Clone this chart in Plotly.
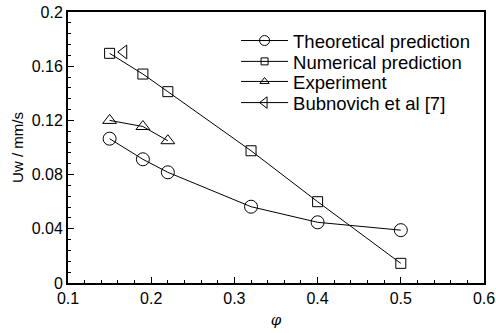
import plotly.graph_objects as go

x_theory = [0.15, 0.19, 0.22, 0.32, 0.40, 0.50]
y_theory = [0.1065, 0.0913, 0.0817, 0.0563, 0.0448, 0.0390]
x_num = [0.15, 0.19, 0.22, 0.32, 0.40, 0.50]
y_num = [0.1695, 0.1542, 0.1412, 0.0976, 0.0600, 0.0145]
x_exp = [0.15, 0.19, 0.22]
y_exp = [0.1200, 0.1155, 0.1050]
x_bub = [0.167]
y_bub = [0.1705]

names = ["Theoretical prediction", "Numerical prediction", "Experiment", "Bubnovich et al [7]"]
symbols = ["circle-open", "square-open", "triangle-up-open", "triangle-left-open"]
plot_sizes = [13, 10, 12, 12]
legend_sizes = [10, 7, 8, 10]
legend_ids = ["legend", "legend2", "legend3", "legend4"]
legend_rows = [0.893, 0.816, 0.742, 0.664]
xs = [x_theory, x_num, x_exp, x_bub]
ys = [y_theory, y_num, y_exp, y_bub]

line = dict(color="black", width=1)
fig = go.Figure()
for xv, yv, nm, sym, sz in zip(xs, ys, names, symbols, plot_sizes):
    fig.add_trace(go.Scatter(x=xv, y=yv, mode="lines+markers", name=nm, showlegend=False,
                             line=line, marker=dict(symbol=sym, size=sz, color="black", line=dict(width=1))))
for nm, sym, sz, lid in zip(names, symbols, legend_sizes, legend_ids):
    fig.add_trace(go.Scatter(x=[None], y=[None], mode="lines+markers", name=nm, showlegend=True,
                             legend=lid,
                             line=line, marker=dict(symbol=sym, size=sz, color="black", line=dict(width=1))))

font = dict(family="Liberation Sans, Arial, sans-serif", size=16, color="black")
legend_font = dict(family="Liberation Sans, Arial, sans-serif", size=18.5, color="black")
layout_legends = {}
for lid, ly in zip(legend_ids, legend_rows):
    layout_legends[lid] = dict(x=0.404, y=ly, xanchor="left", yanchor="middle",
                               bgcolor="rgba(0,0,0,0)", font=legend_font, itemwidth=47)

fig.update_layout(
    width=496, height=333,
    margin=dict(l=68, r=12, t=12, b=50),
    paper_bgcolor="white", plot_bgcolor="white",
    font=font,
    showlegend=True,
    **layout_legends,
    xaxis=dict(range=[0.1, 0.6], tickvals=[0.1, 0.2, 0.3, 0.4, 0.5, 0.6],
               ticktext=["0.1", "0.2", "0.3", "0.4", "0.5", "0.6"],
               ticks="inside", ticklen=6, tickwidth=1, tickcolor="black",
               minor=dict(dtick=0.02, ticks="inside", ticklen=3, tickcolor="black", tickwidth=1),
               showline=True, linecolor="black", linewidth=2, mirror=True,
               showgrid=False, zeroline=False, automargin=False,
               title=dict(text="<i>φ</i>", standoff=8, font=dict(family="DejaVu Serif, serif", size=15))),
    yaxis=dict(range=[0, 0.2], tickvals=[0, 0.04, 0.08, 0.12, 0.16, 0.2],
               ticktext=["0", "0.04", "0.08", "0.12", "0.16", "0.2"],
               ticks="inside", ticklen=6, tickwidth=1, tickcolor="black",
               minor=dict(dtick=0.008, ticks="inside", ticklen=3, tickcolor="black", tickwidth=1),
               showline=True, linecolor="black", linewidth=2, mirror=True,
               showgrid=False, zeroline=False, automargin=False,
               title=dict(text="Uw / mm/s", standoff=4, font=dict(size=15))),
)
fig.write_html("out.html")
